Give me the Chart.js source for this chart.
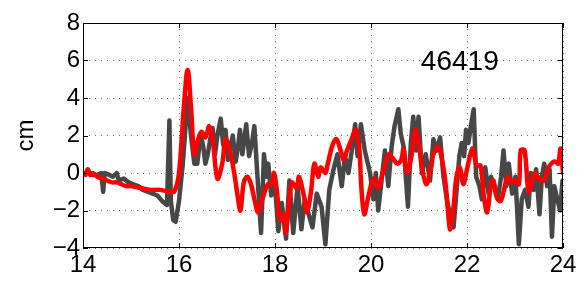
<!DOCTYPE html>
<html>
<head>
<meta charset="utf-8">
<script src="https://cdn.jsdelivr.net/npm/chart.js@4.4.1/dist/chart.umd.min.js"></script>
<style>
  html, body { margin: 0; padding: 0; background: #fff; }
  #wrap { width: 588px; height: 284px; }
</style>
</head>
<body>
<div id="wrap"><canvas id="chart" width="588" height="284"></canvas></div>
<script>
// serie gris (observada)
const grayX = [14.00, 14.10, 14.20, 14.30, 14.38, 14.42, 14.45, 14.55, 14.62, 14.70, 14.75, 14.85, 14.95,
    15.05, 15.15, 15.25, 15.35, 15.45, 15.55, 15.65, 15.75, 15.80, 15.83, 15.88, 15.93,
    16.00, 16.08, 16.15, 16.18, 16.25, 16.32, 16.38, 16.45, 16.50, 16.55, 16.60, 16.65, 16.70, 16.75, 16.80, 16.87, 16.92, 16.97,
    17.02, 17.08, 17.12, 17.18, 17.23, 17.27, 17.32, 17.36, 17.40, 17.46, 17.52, 17.57, 17.63, 17.71, 17.77, 17.82, 17.86, 17.92,
    18.00, 18.07, 18.14, 18.23, 18.30, 18.38, 18.47, 18.55, 18.62, 18.69, 18.78, 18.87, 18.97,
    19.05, 19.13, 19.22, 19.30, 19.39, 19.46, 19.53, 19.60, 19.67, 19.72, 19.79, 19.87, 19.98,
    20.05, 20.10, 20.15, 20.22, 20.29, 20.36, 20.43, 20.49, 20.57, 20.62, 20.68, 20.77, 20.83, 20.88, 20.94, 20.99,
    21.06, 21.14, 21.23, 21.30, 21.37, 21.44, 21.51, 21.58, 21.65, 21.72, 21.79, 21.84, 21.89, 21.94, 21.98,
    22.03, 22.08, 22.14, 22.19, 22.26, 22.31, 22.38, 22.45, 22.50, 22.57, 22.64, 22.71, 22.76, 22.82, 22.87, 22.94,
    23.01, 23.08, 23.14, 23.21, 23.28, 23.33, 23.39, 23.44, 23.51, 23.56, 23.61, 23.67, 23.72, 23.77, 23.82, 23.88, 23.94, 23.99];
const grayY = [0.0, 0.0, -0.1, -0.1, 0.0, -1.0, 0.0, -0.1, -0.2, 0.0, -0.4, -0.3, -0.5,
    -0.6, -0.7, -0.9, -1.0, -1.1, -1.2, -1.5, -1.7, 2.8, -1.5, -2.5, -2.6,
    -1.5, 0.5, 3.0, 4.0, 2.0, 0.5, 0.5, 2.0, 1.5, 0.5, 1.0, 1.8, 2.4, 1.0, 2.0, 2.9, 1.5, 2.3,
    0.7, 1.5, 2.0, 0.6, 1.4, 2.3, 1.0, 1.8, 2.6, 0.9, 1.6, 2.5, 0.0, -3.2, 1.0, -0.2, 0.5, -1.2,
    -0.7, -3.1, -1.6, -3.5, -0.4, -3.2, -0.7, -3.0, -1.4, -2.1, -2.9, -1.1, -1.8,
    -3.8, -0.9, 0.2, 1.0, -0.7, 0.9, 0.0, 1.2, 2.6, 0.9, 2.6, 1.2, 0.0,
    -1.4, 0.0, -2.0, -0.4, 1.2, -0.7, 1.4, 2.5, 3.4, 2.1, 1.4, -1.8, 1.6, 3.0, 1.2, 3.0,
    0.0, 1.0, -0.4, 1.8, 1.2, 1.9, -0.2, -1.4, -2.3, -2.9, -0.7, 0.9, 1.6, 0.9, 2.3,
    1.6, 2.5, 3.4, -0.2, -0.7, -1.4, 0.3, -1.1, -0.2, -0.7, -1.4, -0.2, 1.2, -0.7, 0.5, -1.1,
    -0.2, -3.8, -1.4, -0.9, -1.8, 0.0, -0.9, 0.2, -2.2, -0.2, 0.5, -0.7, 0.2, -3.4, -0.7, -1.4, -2.0, -0.4];

// serie roja (modelo)
const redX = [14.00, 14.05, 14.10, 14.15, 14.20, 14.30, 14.40, 14.50, 14.60, 14.70, 14.80, 14.90, 15.00, 15.20, 15.40, 15.60, 15.80, 15.90,
    16.00, 16.10, 16.18, 16.25, 16.32, 16.40, 16.47, 16.55, 16.63, 16.70, 16.80, 16.90, 16.97,
    17.05, 17.15, 17.22, 17.28, 17.35, 17.42, 17.50, 17.58, 17.65, 17.75, 17.85, 17.93, 17.98,
    18.05, 18.10, 18.18, 18.22, 18.30, 18.35, 18.45, 18.50, 18.60, 18.67, 18.75, 18.82, 18.90, 18.95,
    19.05, 19.10, 19.20, 19.28, 19.38, 19.43, 19.50, 19.58, 19.68, 19.75, 19.80, 19.86, 19.95,
    20.05, 20.15, 20.20, 20.30, 20.37, 20.45, 20.55, 20.63, 20.68, 20.75, 20.85, 20.92,
    21.00, 21.05, 21.15, 21.25, 21.30, 21.40, 21.48, 21.55, 21.62, 21.65, 21.72, 21.78, 21.85, 21.92,
    22.00, 22.07, 22.12, 22.20, 22.28, 22.35, 22.42, 22.50, 22.55, 22.62, 22.70, 22.78, 22.85, 22.92,
    23.00, 23.08, 23.12, 23.20, 23.28, 23.35, 23.42, 23.50, 23.60, 23.70, 23.80, 23.85, 23.90, 23.95, 24.00];
const redY = [0.0, -0.1, 0.2, -0.1, 0.0, -0.2, -0.3, -0.4, -0.5, -0.5, -0.6, -0.7, -0.7, -0.8, -0.9, -0.9, -1.0, -1.0,
    0.0, 3.5, 5.5, 3.5, 1.0, 1.8, 2.2, 1.9, 2.5, 1.8, -0.3, 0.5, 1.8,
    1.3, 0.0, -1.2, -2.0, -0.5, -0.2, -0.6, -1.5, -2.1, -1.3, -0.6, -0.6, 0.0,
    -1.2, -2.5, -2.2, -3.2, -1.5, -0.5, -0.8, -0.2, -1.2, -2.1, -1.0, 0.5, -0.2, 0.3,
    0.0, 0.5, 1.5, 1.8, 1.1, 0.7, 1.2, 1.7, 2.3, 1.5, -0.8, -2.2, -1.2,
    -0.3, -0.8, -0.4, 0.5, 1.0, 0.8, 0.5, 0.7, 1.3, 0.0, 1.0, 2.3,
    1.5, 0.5, -0.6, 0.3, 1.0, 1.4, 0.7, -0.5, -2.5, -3.0, -1.8, -0.2, 0.3, -0.6,
    0.2, 1.0, 1.3, 0.4, 0.4, -1.2, -2.1, -0.6, -0.4, -1.3, -1.5, -0.8, -0.2, -0.5,
    -0.4, -0.6, 1.2, 1.2, -1.0, -0.5, 0.0, -0.3, -0.4, 0.3, 0.6, 0.6, 0.5, 1.3, 0.0];

const xTicks = [14, 16, 18, 20, 22, 24];
const yTicks = [-4, -2, 0, 2, 4, 6, 8];
const stationLabel = '46419';
const yLabel = 'cm';

const FONT = '"Liberation Sans", Arial, Helvetica, sans-serif';

function toPoints(xs, ys) {
    return xs.map((x, i) => ({ x: x, y: ys[i] }));
}

// marco negro, marcas hacia adentro, etiqueta "cm" y número de estación
const matlabFrame = {
    id: 'matlabFrame',
    afterDraw(chart) {
        const { ctx, chartArea: a, scales } = chart;
        ctx.save();
        ctx.strokeStyle = '#000';
        ctx.lineWidth = 1;
        ctx.strokeRect(a.left + 0.5, a.top + 0.5, a.right - a.left - 1, a.bottom - a.top - 1);
        ctx.beginPath();
        xTicks.forEach(t => {
            const px = Math.round(scales.x.getPixelForValue(t)) + 0.5;
            ctx.moveTo(px, a.bottom); ctx.lineTo(px, a.bottom - 5);
            ctx.moveTo(px, a.top); ctx.lineTo(px, a.top + 5);
        });
        yTicks.forEach(t => {
            const py = Math.round(scales.y.getPixelForValue(t)) + 0.5;
            ctx.moveTo(a.left, py); ctx.lineTo(a.left + 5, py);
            ctx.moveTo(a.right, py); ctx.lineTo(a.right - 5, py);
        });
        ctx.stroke();

        ctx.fillStyle = '#000';
        ctx.font = '28px ' + FONT;
        ctx.textAlign = 'center';
        ctx.textBaseline = 'alphabetic';
        ctx.fillText(stationLabel, scales.x.getPixelForValue(21.85), scales.y.getPixelForValue(5.5));

        ctx.font = '24px ' + FONT;
        ctx.translate(26, (a.top + a.bottom) / 2);
        ctx.rotate(-Math.PI / 2);
        ctx.textBaseline = 'middle';
        ctx.fillText(yLabel, 0, 0);
        ctx.restore();
    }
};

new Chart(document.getElementById('chart'), {
    type: 'line',
    data: {
        datasets: [
            {
                label: 'modelo',
                data: toPoints(redX, redY),
                borderColor: '#ff0000',
                borderWidth: 4.5,
                borderJoinStyle: 'round',
                borderCapStyle: 'round',
                pointRadius: 0,
                tension: 0.35,
                order: 0
            },
            {
                label: 'observado',
                data: toPoints(grayX, grayY),
                borderColor: '#474747',
                borderWidth: 4.5,
                borderJoinStyle: 'round',
                borderCapStyle: 'round',
                pointRadius: 0,
                tension: 0,
                order: 1
            }
        ]
    },
    options: {
        responsive: false,
        animation: false,
        layout: { padding: { top: 23, right: 25, left: 0, bottom: 0 } },
        plugins: {
            legend: { display: false },
            tooltip: { enabled: false }
        },
        scales: {
            x: {
                type: 'linear',
                min: 14,
                max: 24,
                afterBuildTicks: axis => { axis.ticks = xTicks.map(v => ({ value: v })); },
                afterFit: axis => { axis.height = 36; },
                ticks: { color: '#000', font: { size: 24, family: FONT }, padding: 3, maxRotation: 0 },
                grid: { color: 'rgba(0,0,0,0.55)', drawTicks: false },
                border: { display: false, dash: [1, 5] }
            },
            y: {
                min: -4,
                max: 8,
                afterBuildTicks: axis => { axis.ticks = yTicks.map(v => ({ value: v })); },
                afterFit: axis => { axis.width = 83; },
                ticks: {
                    color: '#000',
                    font: { size: 24, family: FONT },
                    padding: 3,
                    callback: v => String(v).replace('-', '\u2212')
                },
                grid: { color: 'rgba(0,0,0,0.55)', drawTicks: false },
                border: { display: false, dash: [1, 5] }
            }
        }
    },
    plugins: [matlabFrame]
});
</script>
</body>
</html>
